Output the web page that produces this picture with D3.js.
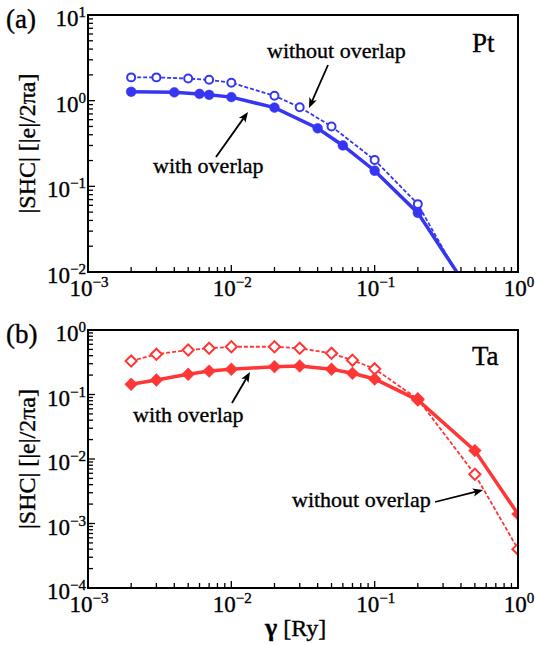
<!DOCTYPE html>
<html><head><meta charset="utf-8">
<script src="https://cdn.jsdelivr.net/npm/d3@7"></script>
<style>body{margin:0;background:#fff}svg{display:block}text{font-family:"Liberation Serif","DejaVu Serif",serif;fill:#000;stroke:#000;stroke-width:0.35px}</style>
</head><body>
<script>
// ---- data ----
const xTickExps = [-3, -2, -1, 0];
const ptYExps = [1, 0, -1, -2];
const taYExps = [0, -1, -2, -3, -4];

const ptWithX = [0.002, 0.004, 0.006, 0.007, 0.01, 0.02, 0.04, 0.06, 0.1, 0.2, 0.5];
const ptWithY = [1.27, 1.25, 1.2, 1.17, 1.1, 0.83, 0.476, 0.30, 0.152, 0.049, 0.0048];
const ptWithoutX = [0.002, 0.003, 0.005, 0.007, 0.01, 0.02, 0.03, 0.05, 0.1, 0.2, 0.5];
const ptWithoutY = [1.87, 1.87, 1.81, 1.75, 1.62, 1.14, 0.84, 0.50, 0.203, 0.062, 0.0041];

const taX = [0.002, 0.003, 0.005, 0.007, 0.01, 0.02, 0.03, 0.05, 0.07, 0.1, 0.2, 0.5, 1.0];
const taWithY = [0.144, 0.168, 0.206, 0.231, 0.246, 0.27, 0.277, 0.246, 0.213, 0.174, 0.082, 0.0135, 0.0014];
const taWithoutY = [0.33, 0.42, 0.49, 0.52, 0.55, 0.55, 0.52, 0.435, 0.34, 0.25, 0.085, 0.0058, 0.0004];

const BLUE = "#3636f2", RED = "#ff3636";

const W = 535, H = 645;
const svg = d3.select("body").append("svg").attr("width", W).attr("height", H)
  .attr("font-family", "'Liberation Serif','DejaVu Serif',serif");
const defs = svg.append("defs");

function supLabel(sel, exp) {
  sel.text("10");
  sel.append("tspan").attr("dy", -9).attr("font-size", 15).text(exp < 0 ? "\u2212" + (-exp) : String(exp));
}

function panel(cfg) {
  const x = d3.scaleLog().domain([1e-3, 1]).range([88, 518]);
  const y = d3.scaleLog().domain(cfg.ydom).range([cfg.bottom, cfg.top]);
  const g = svg.append("g");
  const clipId = "clip" + cfg.id;
  defs.append("clipPath").attr("id", clipId).append("rect")
    .attr("x", 88).attr("y", cfg.top).attr("width", 430).attr("height", cfg.bottom - cfg.top);

  // ticks
  const xt = [];
  for (let e = -3; e < 0; e++) for (let m = 1; m <= 9; m++) xt.push([m * Math.pow(10, e), m === 1]);
  xt.push([1, true]);
  g.selectAll(".xt").data(xt).enter().append("line")
    .attr("x1", d => x(d[0])).attr("x2", d => x(d[0]))
    .attr("y1", cfg.bottom).attr("y2", d => cfg.bottom - (d[1] ? 7 : 5))
    .attr("stroke", "#000").attr("stroke-width", 1.3);
  const [ylo, yhi] = cfg.ydom;
  const yt = [];
  for (let e = Math.round(Math.log10(ylo)); e < Math.round(Math.log10(yhi)); e++)
    for (let m = 1; m <= 9; m++) yt.push([m * Math.pow(10, e), m === 1]);
  yt.push([yhi, true]);
  g.selectAll(".yt").data(yt).enter().append("line")
    .attr("y1", d => y(d[0])).attr("y2", d => y(d[0]))
    .attr("x1", 88).attr("x2", d => 88 + (d[1] ? 7 : 5))
    .attr("stroke", "#000").attr("stroke-width", 1.3);

  // tick labels
  xTickExps.forEach(e => {
    g.append("text").attr("x", x(Math.pow(10, e)) + 1).attr("y", cfg.bottom + 24)
      .attr("text-anchor", "middle").attr("font-size", 23).call(s => supLabel(s, e));
  });
  cfg.yExps.forEach(e => {
    g.append("text").attr("x", 86).attr("y", y(Math.pow(10, e)) + 11)
      .attr("text-anchor", "end").attr("font-size", 23).call(s => supLabel(s, e));
  });

  // series
  const pg = g.append("g").attr("clip-path", `url(#${clipId})`);
  const line = d3.line().x(d => x(d[0])).y(d => y(d[1]));
  cfg.series.forEach(s => {
    const pts = s.xs.map((v, i) => [v, s.ys[i]]);
    pg.append("path").attr("d", line(pts)).attr("fill", "none")
      .attr("stroke", cfg.color).attr("stroke-width", s.filled ? 3.5 : 1.8)
      .attr("stroke-dasharray", s.filled ? null : "4,2");
    const sym = d3.symbol().type(cfg.shape === "circle" ? d3.symbolCircle : d3.symbolDiamond2)
      .size(cfg.shape === "circle" ? (s.filled ? 75 : 50) : (s.filled ? 105 : 80));
    pg.selectAll(null).data(pts).enter().append("path")
      .attr("transform", d => `translate(${x(d[0])},${y(d[1])})`)
      .attr("d", sym)
      .attr("fill", s.filled ? cfg.color : "#fff")
      .attr("stroke", cfg.color).attr("stroke-width", s.filled ? 0.5 : 2);
  });

  // frame
  g.append("rect").attr("x", 88).attr("y", cfg.top).attr("width", 430).attr("height", cfg.bottom - cfg.top)
    .attr("fill", "none").attr("stroke", "#000").attr("stroke-width", 2);

  // y title
  g.append("text").attr("transform", `translate(35,${(cfg.top + cfg.bottom) / 2}) rotate(-90)`)
    .attr("text-anchor", "middle").attr("font-size", 24).text("|SHC| [|e|/2\u03c0a]");
  // panel label
  g.append("text").attr("x", 6).attr("y", cfg.top + 13).attr("font-size", 27).text(cfg.label);
  g.append("text").attr("x", 472).attr("y", cfg.nameY).attr("font-size", 27).text(cfg.name);

  // annotations
  cfg.notes.forEach(n => {
    g.append("text").attr("x", n.tx).attr("y", n.ty).attr("font-size", 22).text(n.text);
    const [x1, y1, x2, y2] = n.arrow;
    const ang = Math.atan2(y2 - y1, x2 - x1), L = 11, wA = 0.38;
    g.append("line").attr("x1", x1).attr("y1", y1)
      .attr("x2", x2 - Math.cos(ang) * 6).attr("y2", y2 - Math.sin(ang) * 6)
      .attr("stroke", "#000").attr("stroke-width", 1.8);
    const p = [[x2, y2],
      [x2 - L * Math.cos(ang - wA), y2 - L * Math.sin(ang - wA)],
      [x2 - L * 0.7 * Math.cos(ang), y2 - L * 0.7 * Math.sin(ang)],
      [x2 - L * Math.cos(ang + wA), y2 - L * Math.sin(ang + wA)]];
    g.append("path").attr("d", "M" + p.map(q => q.join(",")).join("L") + "Z").attr("fill", "#000");
  });
}

panel({
  id: "a", top: 15, bottom: 272, ydom: [1e-2, 1e1], yExps: ptYExps, color: BLUE, shape: "circle",
  label: "(a)", name: "Pt", nameY: 52,
  series: [
    { xs: ptWithoutX, ys: ptWithoutY, filled: false },
    { xs: ptWithX, ys: ptWithY, filled: true }
  ],
  notes: [
    { text: "without overlap", tx: 267, ty: 58, arrow: [328, 65, 309, 108] },
    { text: "with overlap", tx: 153, ty: 173, arrow: [216, 157, 248, 112] }
  ]
});

panel({
  id: "b", top: 330, bottom: 588, ydom: [1e-4, 1e0], yExps: taYExps, color: RED, shape: "diamond",
  label: "(b)", name: "Ta", nameY: 365,
  series: [
    { xs: taX, ys: taWithoutY, filled: false },
    { xs: taX, ys: taWithY, filled: true }
  ],
  notes: [
    { text: "with overlap", tx: 133, ty: 422, arrow: [232, 403, 250, 372] },
    { text: "without overlap", tx: 292, ty: 507, arrow: [435, 502, 483, 490] }
  ]
});

svg.append("text").attr("x", 265).attr("y", 636).attr("font-size", 24)
  .html('<tspan font-weight="bold" font-size="26">\u03b3</tspan> [Ry]');
</script>
</body></html>
